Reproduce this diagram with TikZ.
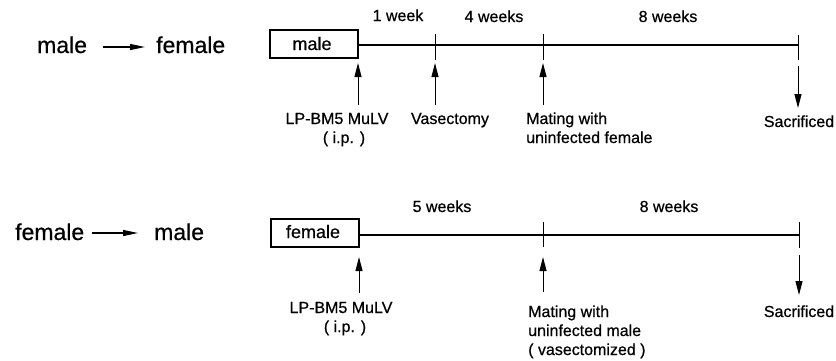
\documentclass[tikz,border=0pt]{standalone}
\usepackage{fontspec}
\setmainfont{Liberation Sans}[FakeBold=0.6]
\usetikzlibrary{arrows.meta}
\begin{document}
\begin{tikzpicture}[x=1pt,y=-1pt,
  big/.style={font=\fontsize{23}{27}\selectfont, inner sep=0pt, anchor=base west},
  lbl/.style={font=\fontsize{16}{19}\selectfont, inner sep=0pt, anchor=base},
  lblw/.style={font=\fontsize{16}{19}\selectfont, inner sep=0pt, anchor=base west},
  boxn/.style={draw, line width=1.8pt, minimum width=88pt, minimum height=28pt, inner sep=0pt, font=\fontsize{18}{20}\selectfont},
  tline/.style={line width=1.7pt},
  tickl/.style={line width=1pt},
  upar/.style={line width=1pt, -{Triangle[length=14pt,width=7pt]}},
  bigar/.style={line width=1.2pt, -{Triangle[length=15pt,width=6pt]}}
]
\useasboundingbox (0,0) rectangle (836,360);

% ---------- top row: male -> female ----------
\node[big] (m1) at (37,53) {male};
\node[big] (f1) at (156,53) {female};
\coordinate (a1s) at (103,47);
\coordinate (a1e) at (145,47);
\draw[bigar] (a1s) -- (a1e);

\node[boxn] (box1) at (314,44) {};
\node[font=\fontsize{18}{20}\selectfont, inner sep=0pt, anchor=base] (box1t) at (312,50) {male};

\coordinate (t1a) at (435,45);
\coordinate (t1b) at (543,45);
\coordinate (t1c) at (798,45);
\draw[tline] (box1.east |- t1a) -- (t1c);
\draw[tickl] (435,34) -- (435,60);
\draw[tickl] (543,34) -- (543,60);
\draw[tickl] (798,35) -- (798,60);

\node[lbl] (w1) at (398,21) {1 week};
\node[lbl] (w4) at (494,22) {4 weeks};
\node[lbl] (w8) at (668,22) {8 weeks};

% arrows
\coordinate (u1s) at (358,105); \coordinate (u1e) at (358,63);
\coordinate (u2s) at (435,105); \coordinate (u2e) at (435,63);
\coordinate (u3s) at (543,105); \coordinate (u3e) at (543,63);
\coordinate (d1s) at (798,66);  \coordinate (d1e) at (798,108);
\draw[upar] (u1s) -- (u1e);
\draw[upar] (u2s) -- (u2e);
\draw[upar] (u3s) -- (u3e);
\draw[upar] (d1s) -- (d1e);

\node[lbl] (lp1) at (337,124) {LP-BM5 MuLV};
\node[lbl] (ip1) at (344,143) {( i.p. )};
\node[lbl] (vas) at (450,124) {Vasectomy};
\node[lblw] (mat1) at (526,124) {Mating with};
\node[lblw] (uf1) at (526,143) {uninfected female};
\node[lbl] (sac1) at (799,127) {Sacrificed};

% ---------- bottom row: female -> male ----------
\node[big] (f2) at (15,240) {female};
\node[big] (m2) at (154,240) {male};
\coordinate (a2s) at (92,233);
\coordinate (a2e) at (138,233);
\draw[bigar] (a2s) -- (a2e);

\node[boxn] (box2) at (315,233) {};
\node[font=\fontsize{18}{20}\selectfont, inner sep=0pt, anchor=base] (box2t) at (313,238) {female};

\coordinate (t2b) at (543,235);
\coordinate (t2c) at (799,235);
\draw[tline] (box2.east |- t2b) -- (t2c);
\draw[tickl] (543,222) -- (543,247);
\draw[tickl] (799,222) -- (799,248);

\node[lbl] (w5) at (442,212) {5 weeks};
\node[lbl] (w82) at (669,212) {8 weeks};

\coordinate (u4s) at (359,293); \coordinate (u4e) at (359,257);
\coordinate (u5s) at (543,292); \coordinate (u5e) at (543,257);
\coordinate (d2s) at (799,255); \coordinate (d2e) at (799,295);
\draw[upar] (u4s) -- (u4e);
\draw[upar] (u5s) -- (u5e);
\draw[upar] (d2s) -- (d2e);

\node[lbl] (lp2) at (341,313) {LP-BM5 MuLV};
\node[lbl] (ip2) at (345,332) {( i.p. )};
\node[lblw] (mat2) at (528,317) {Mating with};
\node[lblw] (um2) at (528,336) {uninfected male};
\node[lblw] (vz2) at (528,355) {( vasectomized )};
\node[lbl] (sac2) at (799,317) {Sacrificed};
\end{tikzpicture}
\end{document}
